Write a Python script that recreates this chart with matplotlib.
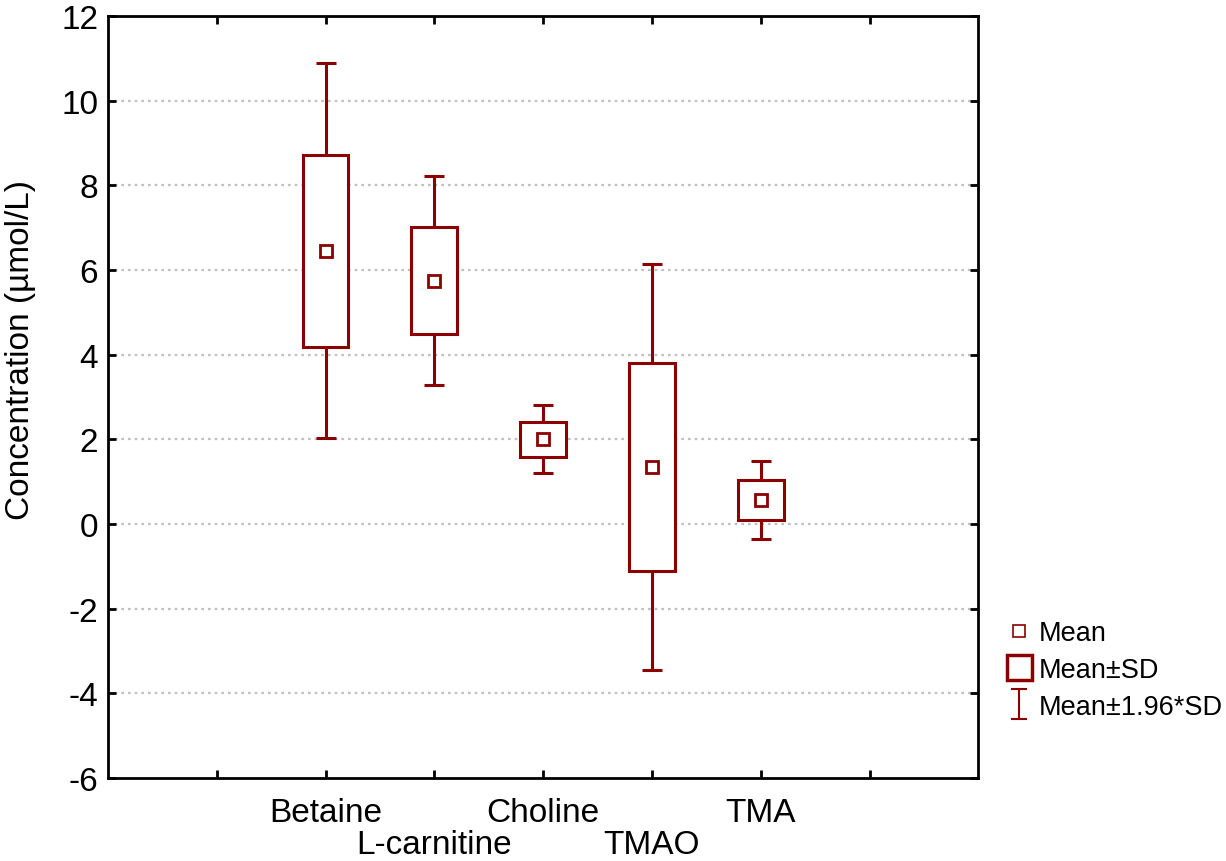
import matplotlib.pyplot as plt
from matplotlib.lines import Line2D
from matplotlib.path import Path
import numpy as np

plt.rcParams['font.family'] = ['Liberation Sans', 'DejaVu Sans']
plt.rcParams['axes.unicode_minus'] = False

# dados: média e desvio padrão de cada composto
compostos = ['Betaine', 'L-carnitine', 'Choline', 'TMAO', 'TMA']
media = [6.45, 5.75, 2.0, 1.35, 0.57]
dp = [2.26, 1.26, 0.41, 2.45, 0.47]

cor = '#8b0000'
pos = np.arange(2, 7)
media = np.array(media)
dp = np.array(dp)

fig = plt.figure(figsize=(12.26, 8.62), dpi=100)
ax = fig.add_axes([0.088, 0.0963, 0.710, 0.884])

# grade
for y in range(-4, 12, 2):
    ax.axhline(y, color='#c0c0c0', lw=1.6, ls=(0, (1.2, 1.8)), zorder=1)

# bigodes = média ± 1.96*DP
ax.errorbar(pos, media, yerr=1.96 * dp, fmt='none', ecolor=cor, elinewidth=2.2,
            capsize=7.5, capthick=2.2, zorder=2)
# caixas = média ± DP
ax.bar(pos, 2 * dp, bottom=media - dp, width=0.42, facecolor='white',
       edgecolor=cor, linewidth=2.2, zorder=3)
# média
ax.plot(pos, media, ls='none', marker='s', markersize=8.5, markerfacecolor='white',
        markeredgecolor=cor, markeredgewidth=2, zorder=4)

ax.set_xlim(0, 8)
ax.set_ylim(-6, 12)
ax.set_yticks(range(-6, 13, 2))

# rótulos alternados: linha de cima nos ticks maiores, linha de baixo nos menores
ax.xaxis.remove_overlapping_locs = False
ax.set_xticks(range(1, 8))
ax.set_xticklabels(['', compostos[0], '', compostos[2], '', compostos[4], ''])
ax.set_xticks(pos[1::2], minor=True)
ax.set_xticklabels(compostos[1::2], minor=True)

ax.tick_params(direction='in', length=6, width=2, labelsize=24, top=True, right=True)
ax.tick_params(axis='x', which='major', pad=14)
ax.tick_params(axis='x', which='minor', length=0, pad=37, labelsize=24)
ax.tick_params(axis='y', pad=7)
for s in ax.spines.values():
    s.set_linewidth(2)

ax.set_ylabel('Concentration (µmol/L)', fontsize=24)
ax.yaxis.set_label_coords(-0.083, 0.563)

# legenda
barra = Path([(-0.5, 1), (0.5, 1), (0, 1), (0, -1), (-0.5, -1), (0.5, -1)],
             [Path.MOVETO, Path.LINETO, Path.MOVETO, Path.LINETO, Path.MOVETO, Path.LINETO])
itens = [
    Line2D([], [], ls='none', marker='s', markersize=9, markerfacecolor='white',
           markeredgecolor=cor, markeredgewidth=1.2),
    Line2D([], [], ls='none', marker='s', markersize=18, markerfacecolor='white',
           markeredgecolor=cor, markeredgewidth=2.5),
    Line2D([], [], ls='none', marker=barra, markersize=22, markerfacecolor='none',
           markeredgecolor=cor, markeredgewidth=1.5),
]
fig.legend(itens, ['Mean', 'Mean±SD', 'Mean±1.96*SD'], loc='upper left',
           bbox_to_anchor=(0.812, 0.292), frameon=False, fontsize=19.5,
           handlelength=0.9, handletextpad=0.3, labelspacing=0.4, borderaxespad=0)

plt.savefig('out.png', dpi=100)
